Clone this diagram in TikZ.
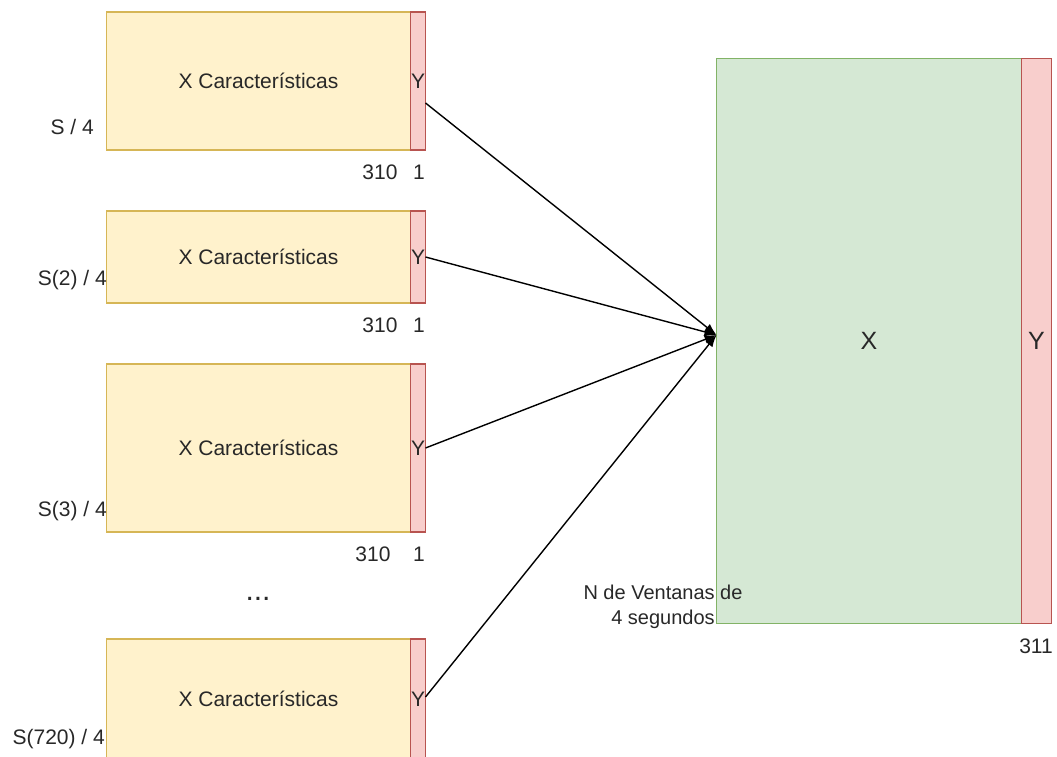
\documentclass[tikz,border=0pt]{standalone}
\usepackage{fontspec}
\setmainfont{Liberation Sans}
\usetikzlibrary{arrows.meta,calc}
\definecolor{yfill}{HTML}{FFF2CC}
\definecolor{ydraw}{HTML}{D6B656}
\definecolor{rfill}{HTML}{F8CECC}
\definecolor{rdraw}{HTML}{B85450}
\definecolor{gfill}{HTML}{D5E8D4}
\definecolor{gdraw}{HTML}{82B366}
\definecolor{txt}{HTML}{282828}
\tikzset{
  feat/.style={draw=ydraw,fill=yfill,line width=1.3pt,inner sep=0,outer sep=0,
    minimum width=304pt,font=\fontsize{21}{25}\selectfont,text=txt},
  lab/.style={draw=rdraw,fill=rfill,line width=1.3pt,inner sep=0,outer sep=0,
    minimum width=15pt,font=\fontsize{21}{25}\selectfont,text=txt},
  big/.style={draw=gdraw,fill=gfill,line width=1.3pt,inner sep=0,outer sep=0,
    minimum width=305pt,minimum height=565pt,font=\fontsize{25}{29}\selectfont,text=txt},
  bigy/.style={draw=rdraw,fill=rfill,line width=1.3pt,inner sep=0,outer sep=0,
    minimum width=30pt,minimum height=565pt,font=\fontsize{25}{29}\selectfont,text=txt},
  note/.style={inner sep=0,font=\fontsize{21}{25}\selectfont,text=txt},
  link/.style={line width=1.4pt,black,-{Latex[length=12pt,width=9pt]}}
}
\begin{document}
\begin{tikzpicture}[x=1pt,y=-1pt]
\useasboundingbox (0,0) rectangle (1057,757);
\clip (0,0) rectangle (1057,757);
\fill[white] (0,0) rectangle (1057,757);

% feature blocks: X columns plus the Y column
\node[feat,minimum height=138pt] (f1) at (258.5,81) {X Características};
\node[lab,minimum height=138pt,anchor=west] (y1) at (f1.east) {Y};
\node[feat,minimum height=92pt] (f2) at (258.5,257) {X Características};
\node[lab,minimum height=92pt,anchor=west] (y2) at (f2.east) {Y};
\node[feat,minimum height=168pt] (f3) at (258.5,448) {X Características};
\node[lab,minimum height=168pt,anchor=west] (y3) at (f3.east) {Y};
\node[feat,minimum height=120pt] (f4) at (258.5,699) {X Características};
\node[lab,minimum height=120pt,anchor=west] (y4) at (f4.east) {Y};

% row labels
\node[note,anchor=east] (s1) at (94,127) {S / 4};
\node[note,anchor=east] (s2) at (107,280) {S(2) / 4};
\node[note,anchor=east] (s3) at (107,511) {S(3) / 4};
\node[note,anchor=east] (s4) at (105,739) {S(720) / 4};

% column widths
\node[note] (n1a) at (380,172) {310};
\node[note] (n1b) at (419,172) {1};
\node[note] (n2a) at (380,325) {310};
\node[note] (n2b) at (419,325) {1};
\node[note] (n3a) at (373,554) {310};
\node[note] (n3b) at (419,554) {1};

\node[inner sep=0,font=\fontsize{30}{34}\selectfont,text=txt] (dots) at (258,599) {...};

% combined dataset
\node[big] (bx) at (869,341) {X};
\node[bigy,anchor=west] (by) at (bx.east) {Y};
\node[note] (n311) at (1036,646) {311};
\node[note,align=center,font=\fontsize{20}{25}\selectfont] (win) at (663,607) {N de Ventanas de\\4 segundos};

\coordinate (in) at ($(bx.west)+(0,-6)$);
\draw[link] ($(y1.east)+(0,22)$) -- (in);
\draw[link] (y2.east) -- (in);
\draw[link] (y3.east) -- (in);
\draw[link] ($(y4.east)+(0,-2)$) -- (in);
\end{tikzpicture}
\end{document}
